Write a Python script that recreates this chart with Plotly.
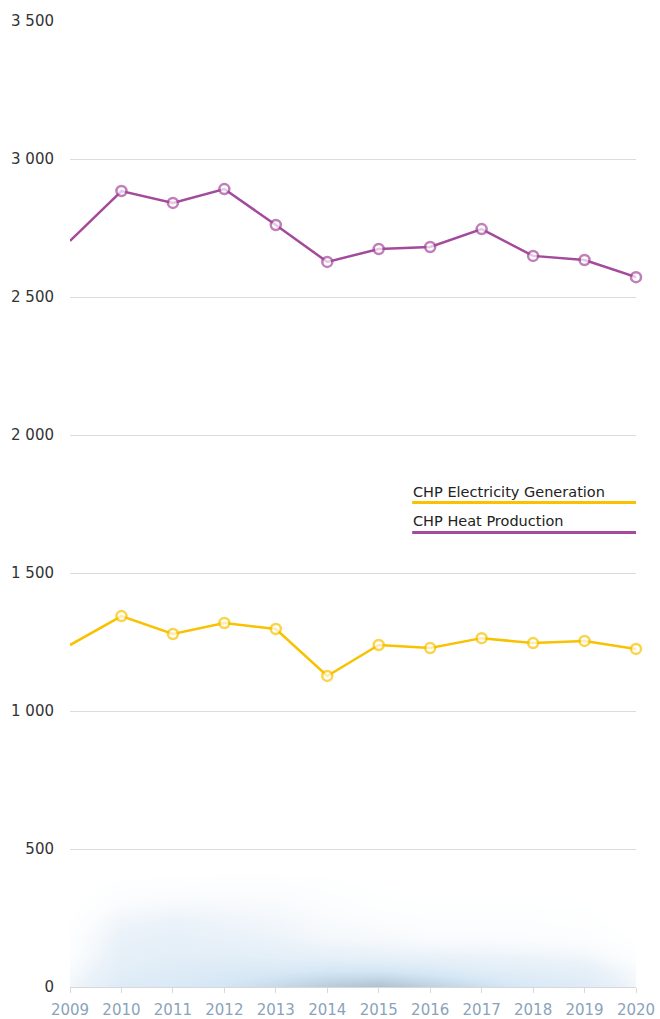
import plotly.graph_objects as go

# CHP output by year
years = list(range(2009, 2021))
heat_production = [2703, 2884, 2841, 2891, 2761, 2627, 2674, 2681, 2746, 2649, 2634, 2572]
electricity_generation = [1239, 1344, 1279, 1319, 1297, 1127, 1239, 1228, 1264, 1246, 1254, 1225]

y_tick_values = [0, 500, 1000, 1500, 2000, 2500, 3000, 3500]
y_tick_labels = ["0", "500", "1 000", "1 500", "2 000", "2 500", "3 000", "3 500"]

# soft background haze along the bottom of the plot
haze_levels = [0, 60, 120, 180, 240, 300, 360, 420, 480]
haze = [
    [0.25, 0.50, 0.55, 0.62, 0.75, 0.90, 1.00, 0.85, 0.70, 0.55, 0.50, 0.25],
    [0.18, 0.42, 0.48, 0.52, 0.55, 0.60, 0.60, 0.55, 0.45, 0.42, 0.38, 0.18],
    [0.12, 0.36, 0.42, 0.42, 0.38, 0.34, 0.32, 0.30, 0.28, 0.26, 0.22, 0.10],
    [0.10, 0.32, 0.36, 0.32, 0.28, 0.22, 0.20, 0.16, 0.16, 0.14, 0.12, 0.05],
    [0.06, 0.26, 0.30, 0.27, 0.24, 0.18, 0.14, 0.10, 0.10, 0.10, 0.08, 0.03],
    [0.03, 0.16, 0.20, 0.20, 0.18, 0.13, 0.08, 0.06, 0.06, 0.06, 0.05, 0.02],
    [0.01, 0.09, 0.10, 0.12, 0.12, 0.09, 0.05, 0.03, 0.03, 0.03, 0.02, 0.00],
    [0.00, 0.03, 0.04, 0.05, 0.05, 0.04, 0.03, 0.01, 0.01, 0.01, 0.00, 0.00],
    [0.00] * 12,
]

YELLOW = "#f8c200"
PURPLE = "#a44a9c"
FONT = "DejaVu Sans"

fig = go.Figure()

fig.add_trace(go.Heatmap(
    x=years, y=haze_levels, z=haze, zsmooth="best", showscale=False,
    hoverinfo="skip", zmin=0, zmax=1,
    colorscale=[
        [0.0, "rgba(255,255,255,0)"],
        [0.3, "rgba(228,238,247,0.75)"],
        [0.6, "rgba(205,226,243,0.85)"],
        [1.0, "rgba(165,188,205,0.95)"],
    ],
))

marker_sizes = [0] + [10] * (len(years) - 1)

for name, values, color in [
    ("CHP Electricity Generation", electricity_generation, YELLOW),
    ("CHP Heat Production", heat_production, PURPLE),
]:
    fig.add_trace(go.Scatter(
        x=years, y=values, name=name, mode="lines+markers",
        line=dict(color=color, width=2.5),
        marker=dict(symbol="circle", size=marker_sizes, color="white",
                    line=dict(width=2.5, color=color)),
        cliponaxis=False, showlegend=False,
    ))

# legend: text with a coloured rule underneath
legend_items = [("CHP Electricity Generation", YELLOW), ("CHP Heat Production", PURPLE)]
for i, (label, color) in enumerate(legend_items):
    y_line = 1755 - i * 108
    fig.add_annotation(x=2015.65, y=y_line, xref="x", yref="y", text=label,
                       showarrow=False, xanchor="left", yanchor="bottom",
                       xshift=-1, yshift=1,
                       font=dict(family=FONT, size=14.5, color="#222"))
    fig.add_shape(type="line", xref="x", yref="y", x0=2015.65, x1=2020.04,
                  y0=y_line, y1=y_line, line=dict(color=color, width=3))

fig.update_layout(
    width=660, height=1019,
    margin=dict(l=70, r=24, t=21, b=32),
    paper_bgcolor="white", plot_bgcolor="white",
    font=dict(family=FONT, size=15, color="#333"),
    showlegend=False,
)
fig.update_xaxes(
    range=[2009, 2020], tickvals=years, ticktext=[str(y) for y in years],
    showgrid=False, zeroline=False, showline=True, linecolor="#d8d8d8",
    ticks="outside", ticklen=5, tickcolor="#d8d8d8", automargin=False,
    ticklabelstandoff=4,
    tickfont=dict(family=FONT, size=15, color="#8aa3bb"),
)
fig.update_yaxes(
    range=[0, 3500], tickvals=y_tick_values, ticktext=y_tick_labels,
    showgrid=True, gridcolor="#dcdcdc", gridwidth=1, zeroline=False,
    showline=False, ticklabelstandoff=15, automargin=False,
    tickfont=dict(family=FONT, size=15, color="#333"),
)

fig.write_html("out.html")
